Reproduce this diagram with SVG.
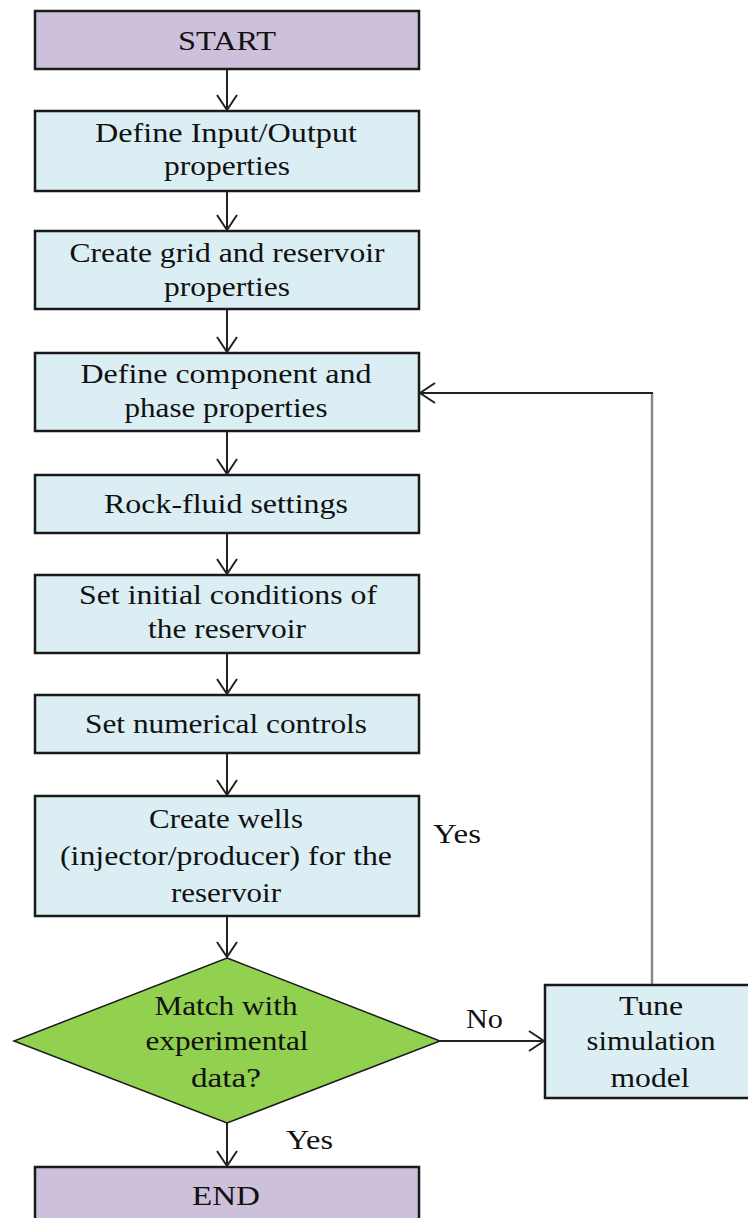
<svg xmlns="http://www.w3.org/2000/svg" width="748" height="1218" viewBox="0 0 748 1218">
<defs>
<marker id="arr" markerUnits="userSpaceOnUse" markerWidth="18" markerHeight="24" refX="16" refY="11" orient="auto">
<path d="M1,1 L16,11 L1,21" fill="none" stroke="#222" stroke-width="2"/>
</marker>
<style>
.term{fill:#CCC0DA;stroke:#1a1a1a;stroke-width:2.5}
.proc{fill:#DBEEF4;stroke:#1a1a1a;stroke-width:2.5}
.dec{fill:#92D050;stroke:#1a1a1a;stroke-width:1.5}
text{font-family:"Liberation Serif","Times New Roman",serif;font-size:27px;fill:#111;text-anchor:middle}
.lbl{text-anchor:start}
.c{fill:none;stroke:#222;stroke-width:2}
</style>
</defs>
<rect width="748" height="1218" fill="#fff"/>
<g id="connectors">
<line class="c" x1="227" y1="69" x2="227" y2="110" marker-end="url(#arr)"/>
<line class="c" x1="227" y1="191" x2="227" y2="230" marker-end="url(#arr)"/>
<line class="c" x1="227" y1="309" x2="227" y2="352" marker-end="url(#arr)"/>
<line class="c" x1="227" y1="431" x2="227" y2="474" marker-end="url(#arr)"/>
<line class="c" x1="227" y1="533" x2="227" y2="574" marker-end="url(#arr)"/>
<line class="c" x1="227" y1="653" x2="227" y2="694" marker-end="url(#arr)"/>
<line class="c" x1="227" y1="753" x2="227" y2="795" marker-end="url(#arr)"/>
<line class="c" x1="227" y1="916" x2="227" y2="957" marker-end="url(#arr)"/>
<line class="c" x1="227" y1="1123" x2="227" y2="1166" marker-end="url(#arr)"/>
<line class="c" x1="440" y1="1041" x2="544" y2="1041" marker-end="url(#arr)"/>
<line x1="652" y1="985" x2="652" y2="393" stroke="#8a8a8a" stroke-width="2.5"/>
<line class="c" x1="653" y1="393" x2="420" y2="393" marker-end="url(#arr)"/>
<text class="lbl" x="433" y="843" textLength="48" lengthAdjust="spacingAndGlyphs">Yes</text>
<text class="lbl" x="466" y="1028" textLength="37" lengthAdjust="spacingAndGlyphs">No</text>
<text class="lbl" x="286" y="1149" textLength="47" lengthAdjust="spacingAndGlyphs">Yes</text>
</g>
<g id="start">
<rect class="term" x="35" y="11" width="384" height="58"/>
<text x="227" y="50" textLength="98" lengthAdjust="spacingAndGlyphs">START</text>
</g>
<g id="io">
<rect class="proc" x="35" y="111" width="384" height="80"/>
<text x="226" y="142" textLength="262" lengthAdjust="spacingAndGlyphs">Define Input/Output</text>
<text x="227" y="175" textLength="126" lengthAdjust="spacingAndGlyphs">properties</text>
</g>
<g id="grid">
<rect class="proc" x="35" y="231" width="384" height="78"/>
<text x="227" y="262" textLength="315" lengthAdjust="spacingAndGlyphs">Create grid and reservoir</text>
<text x="227" y="296" textLength="126" lengthAdjust="spacingAndGlyphs">properties</text>
</g>
<g id="component">
<rect class="proc" x="35" y="353" width="384" height="78"/>
<text x="226" y="383" textLength="291" lengthAdjust="spacingAndGlyphs">Define component and</text>
<text x="226" y="417" textLength="203" lengthAdjust="spacingAndGlyphs">phase properties</text>
</g>
<g id="rockfluid">
<rect class="proc" x="35" y="475" width="384" height="58"/>
<text x="226" y="513" textLength="244" lengthAdjust="spacingAndGlyphs">Rock-fluid settings</text>
</g>
<g id="initial">
<rect class="proc" x="35" y="575" width="384" height="78"/>
<text x="228" y="604" textLength="298" lengthAdjust="spacingAndGlyphs">Set initial  conditions of</text>
<text x="227" y="638" textLength="158" lengthAdjust="spacingAndGlyphs">the reservoir</text>
</g>
<g id="numerical">
<rect class="proc" x="35" y="695" width="384" height="58"/>
<text x="226" y="733" textLength="282" lengthAdjust="spacingAndGlyphs">Set numerical  controls</text>
</g>
<g id="wells">
<rect class="proc" x="35" y="796" width="384" height="120"/>
<text x="226" y="828" textLength="154" lengthAdjust="spacingAndGlyphs">Create wells</text>
<text x="226" y="865" textLength="332" lengthAdjust="spacingAndGlyphs">(injector/producer)  for the</text>
<text x="226" y="902" textLength="110" lengthAdjust="spacingAndGlyphs">reservoir</text>
</g>
<g id="match">
<polygon class="dec" points="227,958 440,1041 227,1123 14,1041"/>
<text x="226" y="1015" textLength="143" lengthAdjust="spacingAndGlyphs">Match with</text>
<text x="227" y="1050" textLength="163" lengthAdjust="spacingAndGlyphs">experimental</text>
<text x="226" y="1087" textLength="70" lengthAdjust="spacingAndGlyphs">data?</text>
</g>
<g id="tune">
<rect class="proc" x="545" y="985" width="210" height="113"/>
<text x="651" y="1015" textLength="64" lengthAdjust="spacingAndGlyphs">Tune</text>
<text x="651" y="1050" textLength="129" lengthAdjust="spacingAndGlyphs">simulation</text>
<text x="650" y="1087" textLength="79" lengthAdjust="spacingAndGlyphs">model</text>
</g>
<g id="end">
<rect class="term" x="35" y="1167" width="384" height="60"/>
<text x="226" y="1205" textLength="68" lengthAdjust="spacingAndGlyphs">END</text>
</g>
</svg>
